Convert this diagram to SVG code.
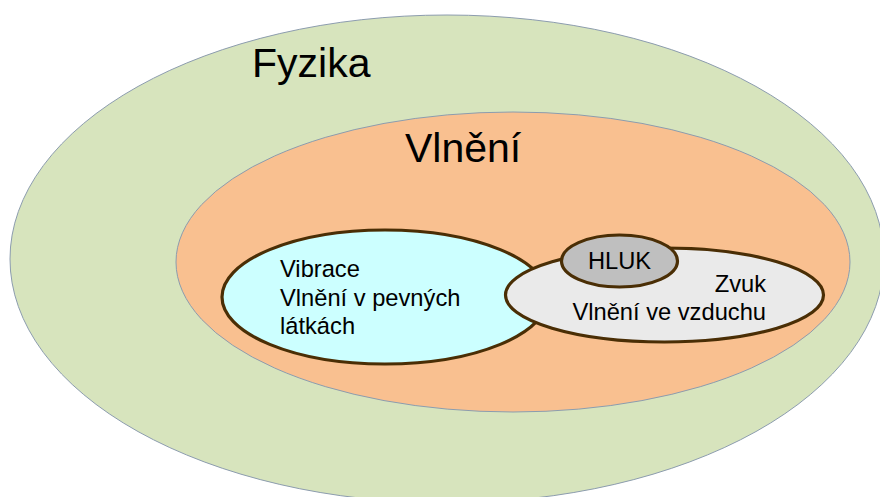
<svg xmlns="http://www.w3.org/2000/svg" width="880" height="497" viewBox="0 0 880 497">
  <style>
    .area { stroke: #8c9cae; stroke-width: 1; }
    .set { stroke: #4a2e05; stroke-width: 3.2; }
    .lbl { font-family: "Liberation Sans", Arial, sans-serif; fill: #000; }
    .big { font-size: 41px; }
    .small { font-size: 23.7px; }
  </style>
  <rect width="880" height="497" fill="#ffffff"/>

  <!-- Physics: outermost domain -->
  <g id="fyzika">
    <ellipse class="area" cx="447" cy="259" rx="437" ry="244" fill="#d7e4bd"/>
    <text class="lbl big" x="252" y="77">Fyzika</text>
  </g>

  <!-- Waves -->
  <g id="vlneni">
    <ellipse class="area" cx="513" cy="262" rx="337" ry="150" fill="#f9c090"/>
    <text class="lbl big" x="405" y="162">Vlnění</text>
  </g>

  <!-- Vibration: waves in solids -->
  <g id="vibrace">
    <ellipse class="set" cx="385" cy="297" rx="163" ry="67" fill="#ccffff"/>
    <text class="lbl small" x="280" y="277">Vibrace</text>
    <text class="lbl small" x="280" y="305.5">Vlnění v pevných</text>
    <text class="lbl small" x="280" y="334">látkách</text>
  </g>

  <!-- Sound: waves in air -->
  <g id="zvuk">
    <ellipse class="set" cx="664.5" cy="295" rx="159" ry="47" fill="#eaeaea"/>
    <text class="lbl small" x="766" y="292" text-anchor="end">Zvuk</text>
    <text class="lbl small" x="766" y="320" text-anchor="end">Vlnění ve vzduchu</text>
  </g>

  <!-- Noise -->
  <g id="hluk">
    <ellipse class="set" cx="619.5" cy="261" rx="58" ry="26" fill="#bfbfbf"/>
    <text class="lbl small" x="619.5" y="269" text-anchor="middle">HLUK</text>
  </g>
</svg>
